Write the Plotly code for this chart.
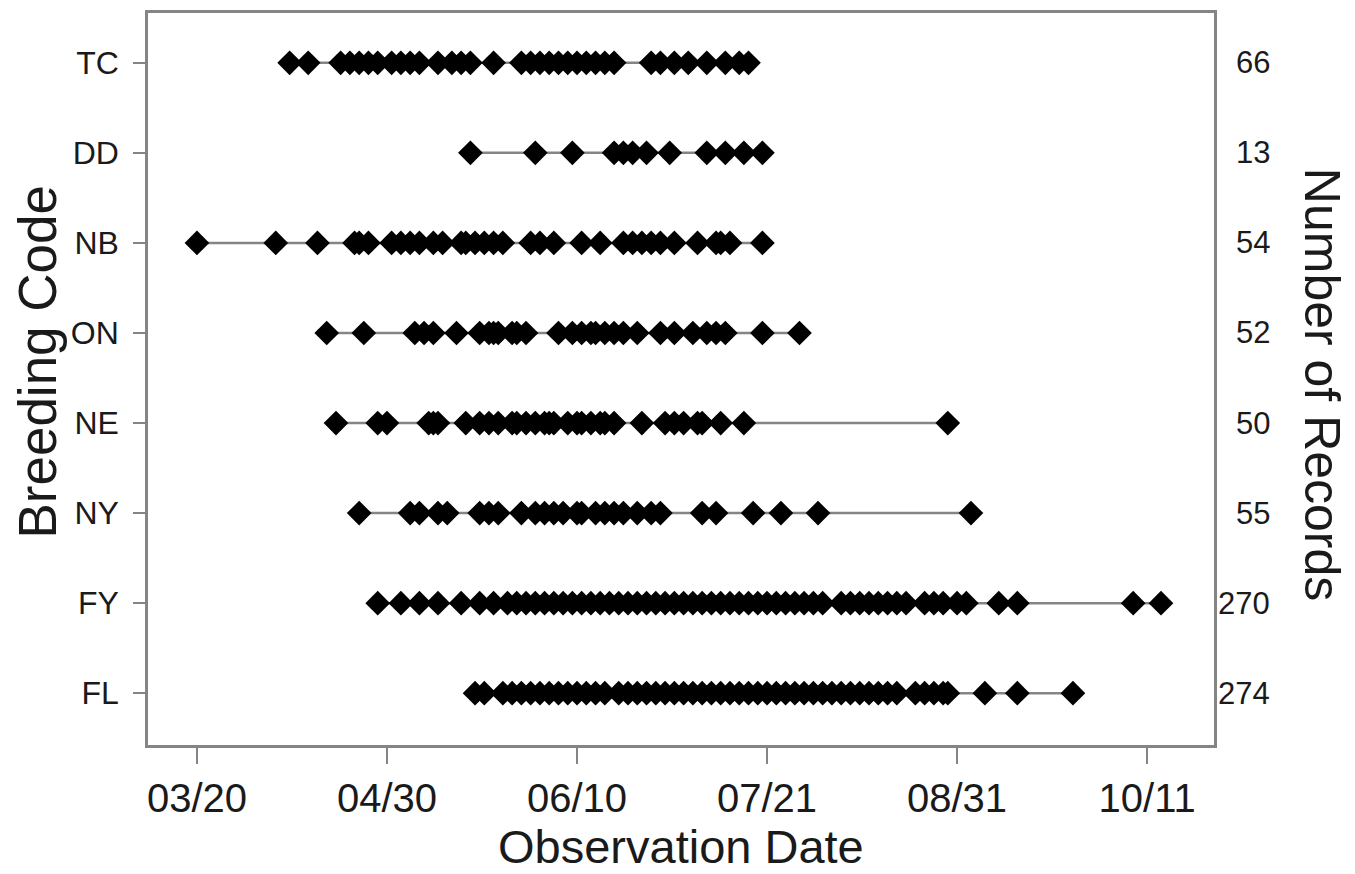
import plotly.graph_objects as go

YEAR = 2009

codes = ["TC", "DD", "NB", "ON", "NE", "NY", "FY", "FL"]
record_counts = [66, 13, 54, 52, 50, 55, 270, 274]
tick_labels = ["03/20", "04/30", "06/10", "07/21", "08/31", "10/11"]

tc_dates = ["04/09", "04/13", "04/20", "04/22", "04/24", "04/26", "04/28", "05/01", "05/03",
            "05/05", "05/07", "05/11", "05/14", "05/16", "05/18", "05/23", "05/29", "05/31",
            "06/02", "06/04", "06/06", "06/08", "06/10", "06/12", "06/14", "06/16", "06/18",
            "06/26", "06/28", "07/01", "07/04", "07/08", "07/12", "07/15", "07/17"]
dd_dates = ["05/18", "06/01", "06/09", "06/18", "06/20", "06/22", "06/25", "06/30", "07/08",
            "07/12", "07/16", "07/20"]
nb_dates = ["03/20", "04/06", "04/15", "04/23", "04/24", "04/26", "05/01", "05/03", "05/05",
            "05/07", "05/10", "05/12", "05/16", "05/17", "05/19", "05/21", "05/23", "05/25",
            "05/31", "06/02", "06/05", "06/11", "06/15", "06/20", "06/22", "06/24", "06/26",
            "06/28", "07/01", "07/06", "07/10", "07/11", "07/13", "07/20"]
on_dates = ["04/17", "04/25", "05/06", "05/08", "05/10", "05/15", "05/20", "05/22", "05/23",
            "05/24", "05/27", "05/28", "05/30", "06/06", "06/09", "06/11", "06/13", "06/14",
            "06/16", "06/18", "06/20", "06/23", "06/28", "07/01", "07/05", "07/08", "07/10",
            "07/12", "07/20", "07/28"]
ne_dates = ["04/19", "04/28", "04/30", "05/09", "05/10", "05/11", "05/17", "05/20", "05/22",
            "05/24", "05/27", "05/28", "05/30", "06/01", "06/03", "06/04", "06/05", "06/08",
            "06/10", "06/11", "06/13", "06/15", "06/16", "06/18", "06/24", "06/29", "07/01",
            "07/03", "07/06", "07/07", "07/11", "07/16", "08/29"]
ny_dates = ["04/24", "05/05", "05/07", "05/11", "05/13", "05/20", "05/22", "05/24", "05/29",
            "06/01", "06/03", "06/05", "06/07", "06/10", "06/11", "06/14", "06/16", "06/18",
            "06/20", "06/23", "06/26", "06/28", "07/07", "07/10", "07/18", "07/24", "08/01",
            "09/03"]
fy_dates = ["04/28", "05/03", "05/07", "05/11", "05/16", "05/20", "05/23", "05/26", "05/28",
            "05/30", "06/01", "06/03", "06/05", "06/07", "06/09", "06/11", "06/13", "06/15",
            "06/17", "06/19", "06/21", "06/23", "06/25", "06/27", "06/29", "07/01", "07/03",
            "07/05", "07/07", "07/09", "07/11", "07/13", "07/15", "07/17", "07/19", "07/21",
            "07/23", "07/25", "07/27", "07/29", "07/31", "08/02", "08/06", "08/08", "08/10",
            "08/12", "08/14", "08/16", "08/18", "08/20", "08/24", "08/26", "08/28", "08/31",
            "09/02", "09/09", "09/13", "10/08", "10/14"]
fl_dates = ["05/19", "05/21", "05/25", "05/27", "05/29", "05/31", "06/02", "06/04", "06/06",
            "06/08", "06/10", "06/12", "06/14", "06/16", "06/19", "06/21", "06/23", "06/25",
            "06/27", "06/29", "07/01", "07/03", "07/05", "07/07", "07/09", "07/11", "07/13",
            "07/15", "07/17", "07/19", "07/21", "07/23", "07/25", "07/27", "07/29", "07/31",
            "08/02", "08/04", "08/06", "08/08", "08/10", "08/12", "08/14", "08/16", "08/18",
            "08/22", "08/24", "08/26", "08/28", "08/29", "09/06", "09/13", "09/25"]

all_dates = [tc_dates, dd_dates, nb_dates, on_dates, ne_dates, ny_dates, fy_dates, fl_dates]


def iso(md):
    m, d = md.split("/")
    return f"{YEAR}-{m}-{d}"


FONT = "Liberation Sans, Arial, sans-serif"
GRAY = "#858585"
TXT = "#1a1a1a"

fig = go.Figure()
for i, dates in enumerate(all_dates):
    xs = sorted(iso(d) for d in dates)
    fig.add_trace(go.Scatter(x=[xs[0], xs[-1]], y=[i, i], mode="lines",
                             line=dict(color=GRAY, width=2.5),
                             hoverinfo="skip", showlegend=False))
    fig.add_trace(go.Scatter(x=xs, y=[i] * len(xs), mode="markers",
                             marker=dict(symbol="diamond", size=19, color="black",
                                         line=dict(width=0)),
                             showlegend=False))

# page body has an 8px margin, so the figure is 8px smaller and margins are shifted
fig.update_layout(
    width=1347, height=866,
    margin=dict(l=140, r=141, t=2, b=129),
    paper_bgcolor="white", plot_bgcolor="white",
    font=dict(family=FONT, color=TXT),
    showlegend=False,
)

fig.update_xaxes(
    type="date",
    range=[f"{YEAR}-03-09 10:30", f"{YEAR}-10-25 10:30"],
    tickvals=[iso(t) for t in tick_labels], ticktext=tick_labels,
    ticks="outside", ticklen=16, tickwidth=2, tickcolor=GRAY,
    tickfont=dict(size=40, family=FONT, color=TXT),
    showline=True, linecolor=GRAY, linewidth=2.5, mirror=True,
    showgrid=False, zeroline=False,
)
fig.update_yaxes(
    range=[7.575, -0.553],
    tickvals=list(range(len(codes))), ticktext=codes,
    ticks="outside", ticklen=12, tickwidth=2, tickcolor=GRAY,
    tickfont=dict(size=32, family=FONT, color=TXT),
    ticklabelstandoff=8,
    showline=True, linecolor=GRAY, linewidth=2.5, mirror=True,
    showgrid=False, zeroline=False,
)

for i, n in enumerate(record_counts):
    fig.add_annotation(x=1, xref="paper", y=i, yref="y", text=str(n),
                       xanchor="right", xshift=58, showarrow=False,
                       font=dict(size=31, family=FONT, color=TXT))

fig.add_annotation(x=0.5, xref="paper", y=-0.138, yref="paper", text="Observation Date",
                   showarrow=False, xanchor="center", yanchor="middle", borderpad=0,
                   font=dict(size=47, family=FONT, color=TXT))
fig.add_annotation(x=-0.104, xref="paper", y=0.524, yref="paper", text="Breeding Code",
                   showarrow=False, textangle=-90, xanchor="center", yanchor="middle",
                   font=dict(size=53, family=FONT, color=TXT))
fig.add_annotation(x=1.101, xref="paper", y=0.4925, yref="paper", text="Number of Records",
                   showarrow=False, textangle=90, xanchor="center", yanchor="middle",
                   font=dict(size=50, family=FONT, color=TXT))

fig.write_html("out.html")
